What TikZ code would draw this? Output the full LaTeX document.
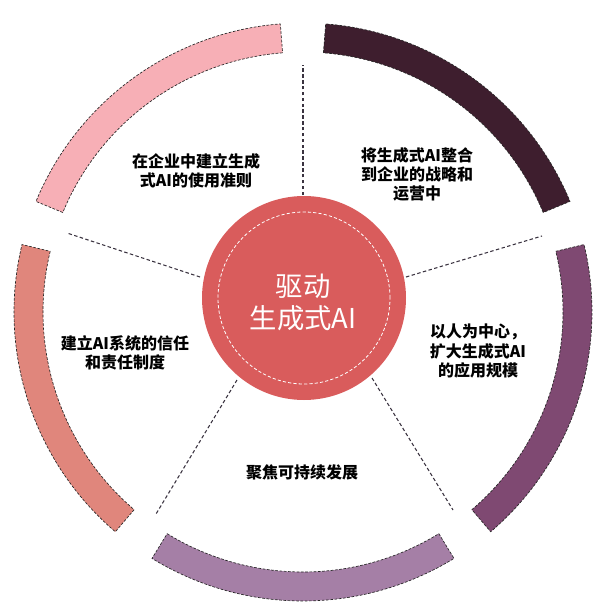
\documentclass[tikz,border=0pt]{standalone}
\usepackage{fontspec}
\newfontfamily\cjk{Noto Sans CJK SC}
\usetikzlibrary{positioning}
\definecolor{petalpink}{HTML}{F7AFB6}
\definecolor{petalplum}{HTML}{3E1E2E}
\definecolor{petalgrape}{HTML}{7F4972}
\definecolor{petallilac}{HTML}{A57FA6}
\definecolor{petalsalmon}{HTML}{E0867C}
\definecolor{hubred}{HTML}{D95C5C}
\definecolor{dashgrey}{HTML}{3A3340}

\begin{document}
\begin{tikzpicture}[x=0.75pt,y=0.75pt,
  petal/.style={draw=black!85,dash pattern=on 2pt off 1.2pt,line width=0.5pt},
  divider/.style={draw=dashgrey,dash pattern=on 2.6pt off 1.8pt,line width=0.8pt},
  lbl/.style={font=\cjk\bfseries\fontsize{12}{14.3}\selectfont,align=center,text=black,inner sep=0pt}]
\useasboundingbox (0,0) rectangle (600,-603);
\coordinate (o) at (303,-312);
\draw [petal,fill=petalpink] ([shift={(94.5:260)}]o) arc[start angle=94.5,end angle=157.5,radius=260] -- ([shift={(157.5:289)}]o) arc[start angle=157.5,end angle=94.5,radius=289] -- cycle;
\draw [petal,fill=petalplum] ([shift={(22.5:260)}]o) arc[start angle=22.5,end angle=85.5,radius=260] -- ([shift={(85.5:289)}]o) arc[start angle=85.5,end angle=22.5,radius=289] -- cycle;
\draw [petal,fill=petalgrape] ([shift={(-49.5:260)}]o) arc[start angle=-49.5,end angle=13.5,radius=260] -- ([shift={(13.5:289)}]o) arc[start angle=13.5,end angle=-49.5,radius=289] -- cycle;
\draw [petal,fill=petallilac] ([shift={(-121.5:260)}]o) arc[start angle=-121.5,end angle=-58.5,radius=260] -- ([shift={(-58.5:289)}]o) arc[start angle=-58.5,end angle=-121.5,radius=289] -- cycle;
\draw [petal,fill=petalsalmon] ([shift={(166.5:260)}]o) arc[start angle=166.5,end angle=229.5,radius=260] -- ([shift={(229.5:289)}]o) arc[start angle=229.5,end angle=166.5,radius=289] -- cycle;
\coordinate (d1a) at (303,-195);
\coordinate (d1b) at (303,-65);
\coordinate (d2a) at (406,-277);
\coordinate (d2b) at (542,-236);
\coordinate (d3a) at (372,-378);
\coordinate (d3b) at (453,-510);
\coordinate (d4a) at (237,-380);
\coordinate (d4b) at (156,-514);
\coordinate (d5a) at (200,-277);
\coordinate (d5b) at (67,-233);
\draw [divider] (d1a) -- (d1b);
\draw [divider] (d2a) -- (d2b);
\draw [divider] (d3a) -- (d3b);
\draw [divider] (d4a) -- (d4b);
\draw [divider] (d5a) -- (d5b);
\node [circle,fill=hubred,minimum size=153pt,inner sep=0pt] (hub) at (304,-298) {};
\draw [white,dash pattern=on 2.4pt off 1.6pt,line width=0.6pt] (hub.center) circle[radius=86];
\node [font=\cjk\fontsize{20.5}{24}\selectfont,text=white,align=center,inner sep=0pt] (hubtext) at (303,-302) {驱动\\生成式AI};
\node [lbl] (rule) at (196,-170.5) {在企业中建立生成\\式AI的使用准则};
\node [lbl] (strategy) at (417,-174) {将生成式AI整合\\到企业的战略和\\运营中};
\node [lbl] (people) at (478,-351) {以人为中心，\\扩大生成式AI\\的应用规模};
\node [lbl] (trust) at (125,-352.5) {建立AI系统的信任\\和责任制度};
\node [lbl] (green) at (302,-472) {聚焦可持续发展};
\end{tikzpicture}
\end{document}
